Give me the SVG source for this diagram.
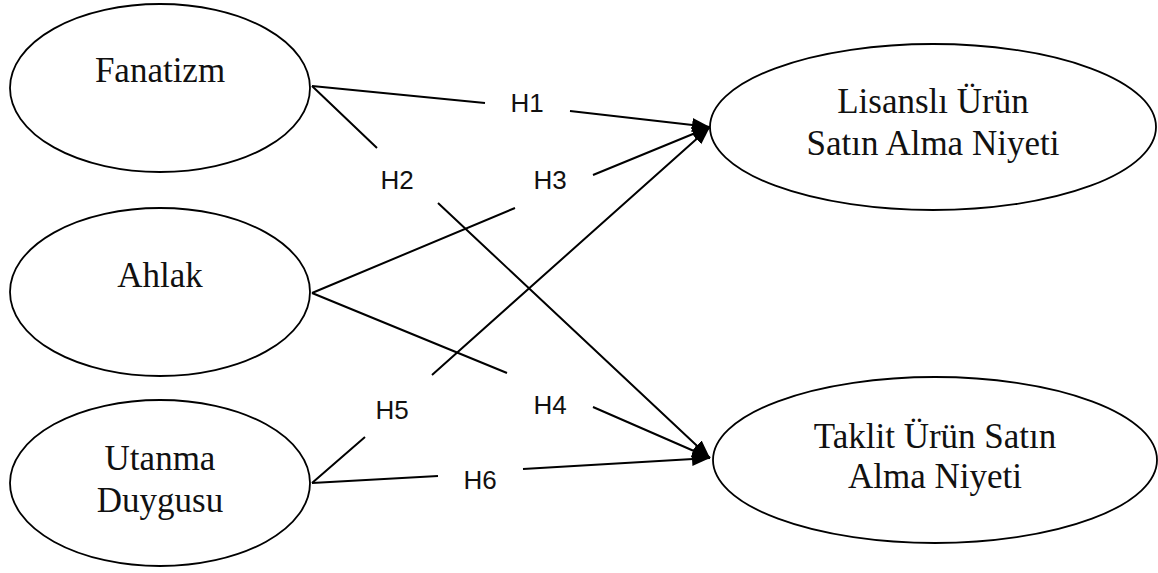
<svg xmlns="http://www.w3.org/2000/svg" width="1158" height="573" viewBox="0 0 1158 573">
<style>
.node ellipse{fill:#fff;stroke:#000;stroke-width:1.8}
.node text{font-family:"Liberation Serif","Times New Roman",serif;font-size:35px;fill:#111;text-anchor:middle}
.conn path{fill:none;stroke:#000;stroke-width:2}
.lbl{font-family:"Liberation Sans",Arial,sans-serif;font-size:26px;fill:#111;text-anchor:middle}
</style>
<defs>
<marker id="ah" markerUnits="userSpaceOnUse" markerWidth="20" markerHeight="20" viewBox="0 0 20 20" refX="18" refY="10" orient="auto">
<path d="M0 3 L18 10 L0 17 Z" fill="#000"/>
</marker>
</defs>
<rect width="1158" height="573" fill="#fff"/>
<g class="conn">
<path d="M312 86 L485 103 M570 111 L710 127" marker-end="url(#ah)"/>
<path d="M312 86 L377 148 M438 203 L710 458" marker-end="url(#ah)"/>
<path d="M312 293 L515 208 M593 175 L710 127" marker-end="url(#ah)"/>
<path d="M312 293 L507 373 M593 407 L710 458" marker-end="url(#ah)"/>
<path d="M312 483 L365 437 M432 375 L710 127" marker-end="url(#ah)"/>
<path d="M312 483 L438 476 M523 469 L710 458" marker-end="url(#ah)"/>
<text class="lbl" x="527" y="112">H1</text>
<text class="lbl" x="397" y="189">H2</text>
<text class="lbl" x="550" y="189">H3</text>
<text class="lbl" x="550" y="414">H4</text>
<text class="lbl" x="392" y="419">H5</text>
<text class="lbl" x="480" y="489">H6</text>
</g>
<g id="fanatizm" class="node">
<ellipse cx="160" cy="88" rx="150" ry="84"/>
<text x="160" y="82">Fanatizm</text>
</g>
<g id="ahlak" class="node">
<ellipse cx="160" cy="292" rx="150" ry="84"/>
<text x="160" y="287">Ahlak</text>
</g>
<g id="utanma" class="node">
<ellipse cx="160" cy="483" rx="150" ry="83"/>
<text x="160" y="470">Utanma</text>
<text x="160" y="512">Duygusu</text>
</g>
<g id="lisansli" class="node">
<ellipse cx="933" cy="127" rx="223" ry="83"/>
<text x="933" y="113">Lisanslı Ürün</text>
<text x="933" y="155">Satın Alma Niyeti</text>
</g>
<g id="taklit" class="node">
<ellipse cx="935" cy="460" rx="222" ry="83"/>
<text x="935" y="448">Taklit Ürün Satın</text>
<text x="935" y="488">Alma Niyeti</text>
</g>
</svg>
